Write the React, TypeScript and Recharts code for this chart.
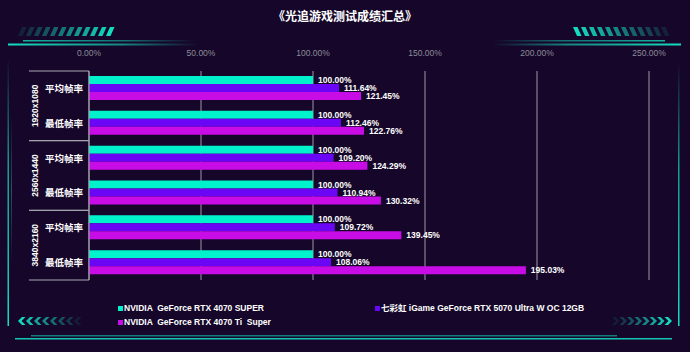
import React from 'react';
import { BarChart, Bar, XAxis, YAxis, CartesianGrid, LabelList } from 'recharts';

const categories = ['平均帧率', '最低帧率', '平均帧率', '最低帧率', '平均帧率', '最低帧率'];
const resolutions = ['1920x1080', '1920x1080', '2560x1440', '2560x1440', '3840x2160', '3840x2160'];
const seriesNames = [
  'NVIDIA  GeForce RTX 4070 SUPER',
  '七彩虹 iGame GeForce RTX 5070 Ultra W OC 12GB',
  'NVIDIA  GeForce RTX 4070 Ti  Super',
];
const rtx4070Super = [100, 100, 100, 100, 100, 100];
const rtx5070Ultra = [111.64, 112.46, 109.2, 110.94, 109.72, 108.06];
const rtx4070TiSuper = [121.45, 122.76, 124.29, 130.32, 139.45, 195.03];
const xTicks = [0, 50, 100, 150, 200, 250];
const title = '《光追游戏测试成绩汇总》';

const COLORS = ['#00f2cc', '#6a06f5', '#c80ce6'];
const BG = '#16072a';
const TEAL = '#14dcc0';
const FONT = "'Liberation Sans', Arial, 'Noto Sans CJK SC', sans-serif";

const W = 690;
const H = 352;
const M = { top: 70, right: 41, bottom: 72, left: 88 };
const HALF_BAND = (H - M.top - 1 - M.bottom) / categories.length / 2;

const data = categories.map((c, i) => ({
  key: `${resolutions[i]}|${c}|${i}`,
  sub: c,
  res: resolutions[i],
  s1: rtx4070Super[i],
  s2: rtx5070Ultra[i],
  s3: rtx4070TiSuper[i],
}));

const fmt = (v: any) => `${Number(v).toFixed(2)}%`;

const YTick = (props: any) => {
  const { x, y, index } = props;
  const d = data[index];
  if (!d) return null;
  const isFirst = index % 2 === 0;
  return (
    <g>
      <text x={x - 6} y={y} dy={3.5} textAnchor="end" fill="#ffffff" fontSize={9.5} fontWeight="bold" fontFamily={FONT}>
        {d.sub}
      </text>
      {isFirst && (
        <>
          <line x1={x - 60} x2={x} y1={y - HALF_BAND} y2={y - HALF_BAND} stroke="#a8a8b2" strokeWidth={1} />
          <text
            x={x - 54}
            y={y + HALF_BAND}
            dy={3}
            transform={`rotate(-90 ${x - 54} ${y + HALF_BAND})`}
            textAnchor="middle"
            fill="#ffffff"
            fontSize={8.5}
            fontWeight="bold"
            fontFamily={FONT}
          >
            {d.res}
          </text>
        </>
      )}
      {!isFirst && (
        <line x1={x - 60} x2={x} y1={y + HALF_BAND} y2={y + HALF_BAND} stroke="#a8a8b2" strokeWidth={1} />
      )}
    </g>
  );
};

const XTick = (props: any) => {
  const { x, y, payload } = props;
  return (
    <text x={x} y={y} dy={-7} textAnchor="middle" fill="#8c8c98" fontSize={8.5} fontFamily={FONT}>
      {fmt(payload.value)}
    </text>
  );
};

const LegendBlock = () => (
  <div
    style={{
      position: 'absolute',
      left: 118,
      top: 303,
      display: 'grid',
      gridTemplateColumns: '257px auto',
      rowGap: 3,
      fontFamily: FONT,
      fontSize: 8.5,
      fontWeight: 'bold',
      color: '#ffffff',
      lineHeight: '11px',
      whiteSpace: 'pre',
    }}
  >
    {seriesNames.map((name, i) => (
      <div key={i} style={{ display: 'flex', alignItems: 'center' }}>
        <span style={{ width: 5, height: 5, background: COLORS[i], display: 'inline-block', marginRight: 1 }} />
        <span>{name}</span>
      </div>
    ))}
  </div>
);

const Decor = () => {
  const stripes = Array.from({ length: 12 });
  const chevrons = Array.from({ length: 8 });
  return (
    <svg width={W} height={H} style={{ position: 'absolute', left: 0, top: 0 }}>
      <defs>
        <linearGradient id="fadeR" x1="0" x2="1" y1="0" y2="0">
          <stop offset="0" stopColor={TEAL} stopOpacity={1} />
          <stop offset="0.6" stopColor={TEAL} stopOpacity={0.6} />
          <stop offset="1" stopColor={TEAL} stopOpacity={0} />
        </linearGradient>
        <linearGradient id="fadeL" x1="1" x2="0" y1="0" y2="0">
          <stop offset="0" stopColor={TEAL} stopOpacity={1} />
          <stop offset="0.6" stopColor={TEAL} stopOpacity={0.6} />
          <stop offset="1" stopColor={TEAL} stopOpacity={0} />
        </linearGradient>
        <linearGradient id="fadeUp" x1="0" x2="0" y1="1" y2="0">
          <stop offset="0" stopColor={TEAL} stopOpacity={1} />
          <stop offset="0.6" stopColor={TEAL} stopOpacity={0.7} />
          <stop offset="1" stopColor={TEAL} stopOpacity={0} />
        </linearGradient>
        <linearGradient id="fadeMid" x1="0" x2="0" y1="0" y2="1">
          <stop offset="0" stopColor={TEAL} stopOpacity={0} />
          <stop offset="0.5" stopColor={TEAL} stopOpacity={0.4} />
          <stop offset="1" stopColor={TEAL} stopOpacity={0} />
        </linearGradient>
      </defs>
      {stripes.map((_, i) => {
        const x0 = 18 + i * 8;
        return (
          <polygon
            key={'tl' + i}
            points={`${x0},36 ${x0 + 4.5},36 ${x0 + 8.5},27 ${x0 + 4},27`}
            fill={TEAL}
            opacity={0.12 + (0.88 * i) / 11}
          />
        );
      })}
      {stripes.map((_, i) => {
        const x0 = 573 + i * 8;
        return (
          <polygon
            key={'tr' + i}
            points={`${x0},27 ${x0 + 4.5},27 ${x0 + 8.5},36 ${x0 + 4},36`}
            fill={TEAL}
            opacity={1 - (0.88 * i) / 11}
          />
        );
      })}
      <rect x={23} y={40} width={172} height={1.5} fill="url(#fadeR)" opacity={0.8} />
      <rect x={8} y={43.5} width={190} height={2} fill="url(#fadeR)" />
      <rect x={493} y={40} width={172} height={1.5} fill="url(#fadeL)" opacity={0.8} />
      <rect x={493} y={43.5} width={188} height={2} fill="url(#fadeL)" />
      <rect x={7.5} y={58} width={1.5} height={268} fill="url(#fadeUp)" />
      <rect x={11} y={115} width={1} height={150} fill="url(#fadeMid)" />
      <rect x={678} y={62} width={1.5} height={264} fill="url(#fadeUp)" />
      {chevrons.map((_, i) => {
        const x = 18 + i * 8;
        return (
          <polygon
            key={'cl' + i}
            points={`${x + 4},317 ${x + 7.5},317 ${x + 3.5},321 ${x + 7.5},325 ${x + 4},325 ${x},321`}
            fill={TEAL}
            opacity={1 - (0.9 * i) / 7}
          />
        );
      })}
      {chevrons.map((_, i) => {
        const x = 612 + i * 7.5;
        return (
          <polygon
            key={'cr' + i}
            points={`${x},317 ${x + 3.5},317 ${x + 7.5},321 ${x + 3.5},325 ${x},325 ${x + 4},321`}
            fill={TEAL}
            opacity={0.1 + (0.9 * i) / 7}
          />
        );
      })}
      <rect x={31} y={335} width={586} height={1.5} fill={TEAL} opacity={0.55} />
      <rect x={15} y={338} width={657} height={1.5} fill={TEAL} opacity={0.9} />
      <text x={W / 2} y={17} dy={4} textAnchor="middle" fill="#ffffff" fontSize={12} fontWeight="bold" fontFamily={FONT}>
        {title}
      </text>
    </svg>
  );
};

export default function App() {
  return (
    <div style={{ position: 'absolute', left: 0, top: 0, width: W, height: H, background: BG, overflow: 'hidden' }}>
      <Decor />
      <div style={{ position: 'absolute', left: 0, top: 0 }}>
        <BarChart width={W} height={H} data={data} layout="vertical" margin={M} barSize={8} barGap={0}>
          <CartesianGrid vertical={true} horizontal={false} stroke="#9a9aa6" strokeWidth={1} />
          <XAxis
            type="number"
            orientation="top"
            domain={[0, 250]}
            ticks={xTicks}
            height={1}
            axisLine={false}
            tickLine={false}
            tick={<XTick />}
            interval={0}
          />
          <YAxis
            type="category"
            dataKey="key"
            width={1}
            tickSize={0}
            tickMargin={0}
            tickLine={false}
            axisLine={{ stroke: '#a8a8b2' }}
            tick={<YTick />}
            interval={0}
          />
          <Bar dataKey="s1" name={seriesNames[0]} fill={COLORS[0]} isAnimationActive={false}>
            <LabelList dataKey="s1" position="right" offset={5} formatter={fmt} fill="#ffffff" fontSize={8.5} fontWeight="bold" fontFamily={FONT} />
          </Bar>
          <Bar dataKey="s2" name={seriesNames[1]} fill={COLORS[1]} isAnimationActive={false}>
            <LabelList dataKey="s2" position="right" offset={5} formatter={fmt} fill="#ffffff" fontSize={8.5} fontWeight="bold" fontFamily={FONT} />
          </Bar>
          <Bar dataKey="s3" name={seriesNames[2]} fill={COLORS[2]} isAnimationActive={false}>
            <LabelList dataKey="s3" position="right" offset={5} formatter={fmt} fill="#ffffff" fontSize={8.5} fontWeight="bold" fontFamily={FONT} />
          </Bar>
        </BarChart>
      </div>
      <LegendBlock />
    </div>
  );
}
